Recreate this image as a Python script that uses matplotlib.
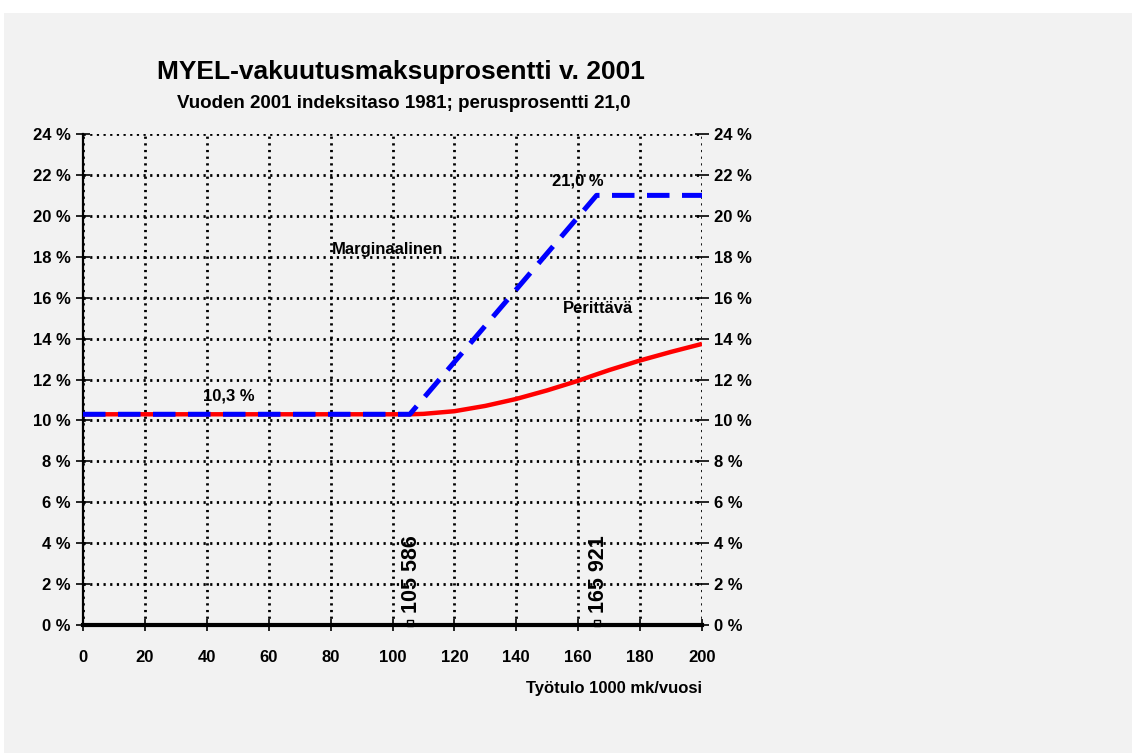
import matplotlib
matplotlib.use("Agg")
import matplotlib.pyplot as plt
from matplotlib.patches import Rectangle

plt.rcParams['font.family'] = ['Liberation Sans Narrow', 'Liberation Sans', 'DejaVu Sans']
plt.rcParams['font.weight'] = 'bold'

# Data
x_marg = [0, 105.586, 165.921, 200]
y_marg = [10.3, 10.3, 21.0, 21.0]
x_per = [0, 105.586, 110, 120, 130, 140, 150, 160, 165.921, 170, 180, 190, 200]
y_per = [10.3, 10.3, 10.32, 10.45, 10.71, 11.05, 11.47, 11.94, 12.25, 12.46, 12.93, 13.35, 13.74]
limits = [105.586, 165.921]
limit_labels = ['105 586', '165 921']
xticks = list(range(0, 201, 20))
yticks = list(range(0, 25, 2))
ytick_labels = [f'{v} %' for v in yticks]

fig = plt.figure(figsize=(11.32, 7.53), dpi=100)
fig.patch.set_facecolor('white')
bg = Rectangle((4/1132, 0), 1 - 4/1132, 1 - 13/753, transform=fig.transFigure,
               facecolor='#f2f2f2', edgecolor='none', zorder=-10)
fig.add_artist(bg)

ax = fig.add_axes([83/1132, 1 - 625/753, (702 - 83)/1132, (625 - 134)/753])
ax.set_facecolor('none')
ax.set_xlim(0, 200)
ax.set_ylim(0, 24)

ax.grid(True, color='black', linestyle=(0, (0.8, 1.6)), linewidth=2.0)
ax.set_axisbelow(True)

ax.plot(x_per, y_per, color='#ff0000', lw=3.2, zorder=3, solid_capstyle='butt')
ax.plot(x_marg, y_marg, color='#0000ff', lw=3.6, dashes=(4.5, 2.5), zorder=4)

ax.plot(limits, [0.12, 0.12], linestyle='none', marker='s', markersize=4,
        markerfacecolor='none', markeredgecolor='black', markeredgewidth=1, zorder=5, clip_on=False)
for xv, lab in zip(limits, limit_labels):
    ax.text(xv + 0.6, 0.6, lab, rotation=90, ha='center', va='bottom', fontsize=15.5,
            fontweight='bold', family=['Liberation Sans', 'DejaVu Sans'], zorder=6)

ax.text(47, 10.85, '10,3 %', ha='center', va='bottom', fontsize=12)
ax.text(160, 21.35, '21,0 %', ha='center', va='bottom', fontsize=12)
ax.text(80.5, 18.0, 'Marginaalinen', ha='left', va='bottom', fontsize=12)
ax.text(155, 15.1, 'Perittävä', ha='left', va='bottom', fontsize=12)

ax.set_xticks(xticks)
ax.set_xticklabels([str(v) for v in xticks], fontsize=12, fontweight='bold')
ax.set_yticks(yticks)
ax.set_yticklabels(ytick_labels, fontsize=12, fontweight='bold')
ax.tick_params(axis='x', direction='inout', length=8, width=1.2, pad=14)
ax.tick_params(axis='y', direction='inout', length=10, width=1.2, pad=4,
               right=True, labelright=True)

for s in ['top', 'right']:
    ax.spines[s].set_visible(False)
ax.spines['left'].set_linewidth(1.6)
ax.spines['bottom'].set_linewidth(3)

ax.text(1.0, -0.13, 'Työtulo 1000 mk/vuosi', transform=ax.transAxes, ha='right', va='center',
        fontsize=12, fontweight='bold')

fig.text(401/1132, 1 - 72/753, 'MYEL-vakuutusmaksuprosentti v. 2001', ha='center', va='center',
         fontsize=19, fontweight='bold')
fig.text(404/1132, 1 - 103/753, 'Vuoden 2001 indeksitaso 1981; perusprosentti 21,0', ha='center',
         va='center', fontsize=13.5, fontweight='bold')

fig.savefig('out.png', dpi=100, facecolor=fig.get_facecolor())
